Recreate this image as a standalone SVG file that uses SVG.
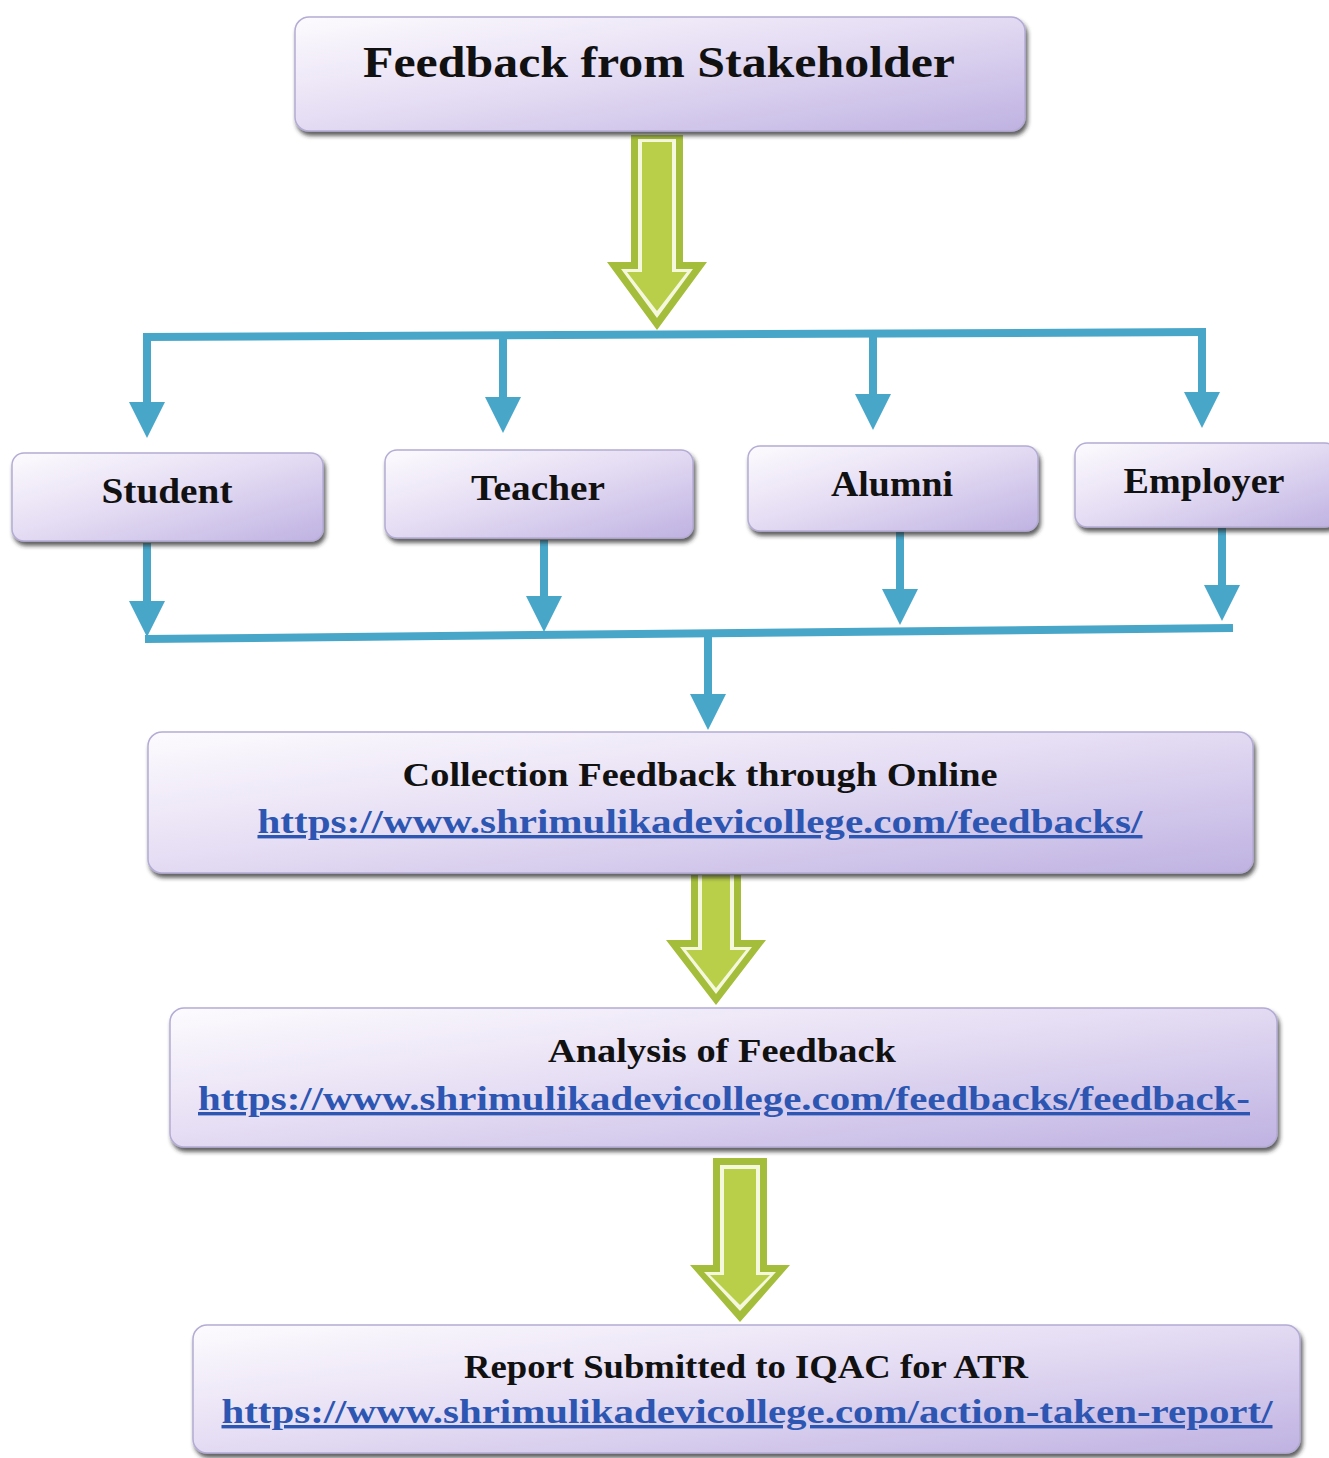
<svg xmlns="http://www.w3.org/2000/svg" width="1329" height="1458" viewBox="0 0 1329 1458">
<defs>
<linearGradient id="boxg" x1="0" y1="0" x2="1" y2="1">
<stop offset="0" stop-color="#fdfbfe"/>
<stop offset="0.45" stop-color="#e6def4"/>
<stop offset="1" stop-color="#bfb2e2"/>
</linearGradient>
<filter id="sh" x="-5%" y="-10%" width="110%" height="130%">
<feDropShadow dx="2" dy="4" stdDeviation="2" flood-color="#2a2a2a" flood-opacity="0.75"/>
</filter>
<marker id="ah" viewBox="0 0 36 36" refX="16" refY="18" markerWidth="36" markerHeight="36" markerUnits="userSpaceOnUse" orient="auto">
<path d="M0,0 L36,18 L0,36 z" fill="#48a6c9"/>
</marker>
</defs>
<style>
.box{fill:url(#boxg);stroke:#b4acd4;stroke-width:1.5;filter:url(#sh)}
.t{font-family:"Liberation Serif","DejaVu Serif",serif;font-weight:bold;fill:#111;text-anchor:middle}
.lk{font-family:"Liberation Serif","DejaVu Serif",serif;font-weight:bold;fill:#2d56b3;text-anchor:middle;text-decoration:underline}
.bl{stroke:#48a6c9;stroke-width:8;fill:none}
.ar{stroke:#48a6c9;stroke-width:8;fill:none;marker-end:url(#ah)}
.g1{fill:#a4bd3a}
.g2{fill:#f5f8dc}
.g3{fill:#b9cf4a}
</style>
<rect width="1329" height="1458" fill="#ffffff"/>

<g id="connectors">
<path class="bl" d="M143,337 L1206,332"/>
<path class="ar" d="M147,337 L147,418"/>
<path class="ar" d="M503,336 L503,413"/>
<path class="ar" d="M873,334 L873,410"/>
<path class="ar" d="M1202,332 L1202,408"/>
<path class="ar" d="M147,543 L147,617"/>
<path class="ar" d="M544,540 L544,612"/>
<path class="ar" d="M900,532 L900,605"/>
<path class="ar" d="M1222,528 L1222,601"/>
<path class="bl" d="M145,639 L1233,628"/>
<path class="ar" d="M708,634 L708,710"/>
<g id="garrow1">
<polygon class="g1" points="631,135 683,135 683,262 707,262 657,330 607,262 631,262"/>
<polygon class="g2" points="638,139 676,139 676,269 693,269 657,318 621,269 638,269"/>
<polygon class="g3" points="642,142 672,142 672,272 687,272 657,311 627,272 642,272"/>
</g>
<g id="garrow2">
<polygon class="g1" points="691,875 741,875 741,940 766,940 716,1005 666,940 691,940"/>
<polygon class="g2" points="698,875 734,875 734,947 752,947 716,994 680,947 698,947"/>
<polygon class="g3" points="702,875 730,875 730,950 746,950 716,988 686,950 702,950"/>
</g>
<g id="garrow3">
<polygon class="g1" points="713,1158 767,1158 767,1265 790,1265 740,1322 690,1265 713,1265"/>
<polygon class="g2" points="720,1165 760,1165 760,1272 776,1272 740,1311 704,1272 720,1272"/>
<polygon class="g3" points="724,1169 756,1169 756,1275 770,1275 740,1305 710,1275 724,1275"/>
</g>
</g>

<g id="node-top">
<rect class="box" x="295" y="17" width="730" height="114" rx="14"/>
<text class="t" x="659" y="77" font-size="44" textLength="592" lengthAdjust="spacingAndGlyphs">Feedback from Stakeholder</text>
</g>
<g id="node-student">
<rect class="box" x="12" y="453" width="311" height="88" rx="12"/>
<text class="t" x="167" y="503" font-size="35" textLength="131" lengthAdjust="spacingAndGlyphs">Student</text>
</g>
<g id="node-teacher">
<rect class="box" x="385" y="450" width="308" height="88" rx="12"/>
<text class="t" x="538" y="500" font-size="35" textLength="134" lengthAdjust="spacingAndGlyphs">Teacher</text>
</g>
<g id="node-alumni">
<rect class="box" x="748" y="446" width="290" height="85" rx="12"/>
<text class="t" x="892" y="496" font-size="35" textLength="122" lengthAdjust="spacingAndGlyphs">Alumni</text>
</g>
<g id="node-employer">
<rect class="box" x="1075" y="443" width="262" height="84" rx="12"/>
<text class="t" x="1204" y="493" font-size="35" textLength="161" lengthAdjust="spacingAndGlyphs">Employer</text>
</g>
<g id="node-collection">
<rect class="box" x="148" y="732" width="1105" height="141" rx="14"/>
<text class="t" x="700" y="786" font-size="34" textLength="595" lengthAdjust="spacingAndGlyphs">Collection Feedback through Online</text>
<text class="lk" x="700" y="833" font-size="34" textLength="885" lengthAdjust="spacingAndGlyphs">https://www.shrimulikadevicollege.com/feedbacks/</text>
</g>
<g id="node-analysis">
<rect class="box" x="170" y="1008" width="1107" height="139" rx="14"/>
<text class="t" x="722" y="1062" font-size="34" textLength="348" lengthAdjust="spacingAndGlyphs">Analysis of Feedback</text>
<text class="lk" x="724" y="1110" font-size="34" textLength="1052" lengthAdjust="spacingAndGlyphs">https://www.shrimulikadevicollege.com/feedbacks/feedback-</text>
</g>
<g id="node-report">
<rect class="box" x="193" y="1325" width="1107" height="128" rx="14"/>
<text class="t" x="746" y="1378" font-size="34" textLength="564" lengthAdjust="spacingAndGlyphs">Report Submitted to IQAC for ATR</text>
<text class="lk" x="747" y="1423" font-size="34" textLength="1051" lengthAdjust="spacingAndGlyphs">https://www.shrimulikadevicollege.com/action-taken-report/</text>
</g>
</svg>
